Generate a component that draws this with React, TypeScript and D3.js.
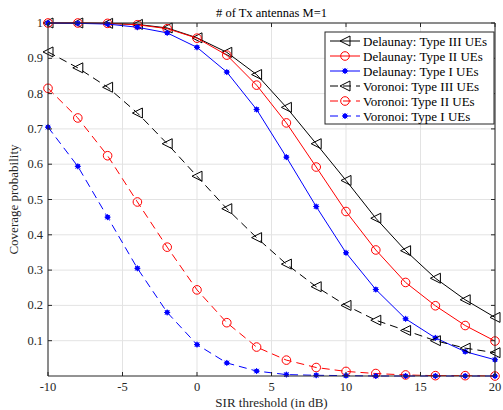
import React from "react";
import * as d3 from "d3";

const xVals = [-10, -8, -6, -4, -2, 0, 2, 4, 6, 8, 10, 12, 14, 16, 18, 20];
const delaunayIII = [1, 1, 0.999, 0.996, 0.986, 0.958, 0.917, 0.854, 0.761, 0.658, 0.554, 0.447, 0.355, 0.277, 0.216, 0.166];
const delaunayII = [1, 1, 0.999, 0.995, 0.984, 0.957, 0.909, 0.824, 0.717, 0.592, 0.466, 0.357, 0.265, 0.199, 0.143, 0.099];
const delaunayI = [1, 0.999, 0.997, 0.988, 0.972, 0.931, 0.861, 0.755, 0.62, 0.48, 0.349, 0.245, 0.162, 0.108, 0.069, 0.046];
const voronoiIII = [0.918, 0.873, 0.818, 0.745, 0.658, 0.566, 0.474, 0.392, 0.317, 0.253, 0.2, 0.158, 0.129, 0.1, 0.079, 0.066];
const voronoiII = [0.815, 0.731, 0.624, 0.493, 0.365, 0.244, 0.151, 0.082, 0.045, 0.024, 0.013, 0.007, 0.003, 0.001, 0.001, 0];
const voronoiI = [0.705, 0.594, 0.45, 0.305, 0.18, 0.089, 0.037, 0.014, 0.004, 0.002, 0.001, 0, 0, 0, 0, 0];

const xTicks = [-10, -5, 0, 5, 10, 15, 20];
const yTicks = [0.1, 0.2, 0.3, 0.4, 0.5, 0.6, 0.7, 0.8, 0.9, 1];
const yTickLabels = ["0.1", "0.2", "0.3", "0.4", "0.5", "0.6", "0.7", "0.8", "0.9", "1"];

type Series = { name: string; values: number[]; color: string; marker: "tri" | "circ" | "star"; dashed: boolean };
const series: Series[] = [
  { name: "Delaunay: Type III UEs", values: delaunayIII, color: "#000000", marker: "tri", dashed: false },
  { name: "Delaunay: Type II UEs", values: delaunayII, color: "#ff0000", marker: "circ", dashed: false },
  { name: "Delaunay: Type I UEs", values: delaunayI, color: "#0000ff", marker: "star", dashed: false },
  { name: "Voronoi: Type III UEs", values: voronoiIII, color: "#000000", marker: "tri", dashed: true },
  { name: "Voronoi: Type II UEs", values: voronoiII, color: "#ff0000", marker: "circ", dashed: true },
  { name: "Voronoi: Type I UEs", values: voronoiI, color: "#0000ff", marker: "star", dashed: true },
];

const L = 48, R = 495, T = 23, B = 376;
const FONT = "'Liberation Serif', 'DejaVu Serif', serif";

function Marker({ kind, x, y, color }: { kind: string; x: number; y: number; color: string }) {
  if (kind === "tri") {
    const s = 5;
    return <path d={`M${x - s},${y} L${x + s},${y - s} L${x + s},${y + s} Z`} fill="none" stroke={color} strokeWidth={1} />;
  }
  if (kind === "circ") {
    return <circle cx={x} cy={y} r={4.3} fill="none" stroke={color} strokeWidth={1} />;
  }
  const s = 3;
  return (
    <g stroke={color} strokeWidth={1}>
      <line x1={x - s} y1={y} x2={x + s} y2={y} />
      <line x1={x} y1={y - s} x2={x} y2={y + s} />
      <line x1={x - s * 0.75} y1={y - s * 0.75} x2={x + s * 0.75} y2={y + s * 0.75} />
      <line x1={x - s * 0.75} y1={y + s * 0.75} x2={x + s * 0.75} y2={y - s * 0.75} />
      <circle cx={x} cy={y} r={2.4} fill={color} stroke="none" />
    </g>
  );
}

export default function App() {
  const x = d3.scaleLinear().domain([-10, 20]).range([L, R]);
  const y = d3.scaleLinear().domain([0, 1]).range([B, T]);
  const line = d3.line<number>().x((_, i) => x(xVals[i])).y((d) => y(d));
  const gridColor = "#e3e3e3";
  const axisColor = "#262626";
  const legX = 325, legY = 32, legW = 169, legH = 92;
  return (
    <svg width={503} height={410} style={{ position: "absolute", left: 0, top: 0, background: "#fff" }} fontFamily={FONT}>
      <rect x={0} y={0} width={503} height={410} fill="#fff" />
      {xTicks.map((t) => (
        <line key={"gx" + t} x1={x(t)} x2={x(t)} y1={T} y2={B} stroke={gridColor} strokeWidth={1} />
      ))}
      {yTicks.map((t) => (
        <line key={"gy" + t} x1={L} x2={R} y1={y(t)} y2={y(t)} stroke={gridColor} strokeWidth={1} />
      ))}
      {series.map((s, si) => (
        <g key={si}>
          <path d={line(s.values) || ""} fill="none" stroke={s.color} strokeWidth={1} strokeDasharray={s.dashed ? "8,5" : undefined} />
          {s.values.map((v, i) => (
            <Marker key={i} kind={s.marker} x={x(xVals[i])} y={y(v)} color={s.color} />
          ))}
        </g>
      ))}
      <line x1={L} x2={R} y1={T} y2={T} stroke={axisColor} strokeWidth={1} />
      <line x1={R} x2={R} y1={T} y2={B} stroke={axisColor} strokeWidth={1} />
      <line x1={L} x2={R} y1={B} y2={B} stroke={axisColor} strokeWidth={1} />
      <line x1={L} x2={L} y1={T} y2={B} stroke={axisColor} strokeWidth={1} />
      {xTicks.map((t) => (
        <g key={"tx" + t}>
          <line x1={x(t)} x2={x(t)} y1={B} y2={B - 4} stroke={axisColor} />
          <line x1={x(t)} x2={x(t)} y1={T} y2={T + 4} stroke={axisColor} />
          <text x={x(t)} y={B + 15} textAnchor="middle" fontSize={12.5} fill={axisColor}>{t}</text>
        </g>
      ))}
      {yTicks.map((t, i) => (
        <g key={"ty" + t}>
          <line x1={L} x2={L + 4} y1={y(t)} y2={y(t)} stroke={axisColor} />
          <line x1={R} x2={R - 4} y1={y(t)} y2={y(t)} stroke={axisColor} />
          <text x={L - 5} y={y(t) + 4} textAnchor="end" fontSize={12.5} fill={axisColor}>{yTickLabels[i]}</text>
        </g>
      ))}
      <text x={(L + R) / 2} y={17} textAnchor="middle" fontSize={12.5} fill="#000">{"# of Tx antennas M=1"}</text>
      <text x={(L + R) / 2} y={407} textAnchor="middle" fontSize={13} fill={axisColor}>SIR threshold (in dB)</text>
      <text transform={`translate(18,${(T + B) / 2}) rotate(-90)`} textAnchor="middle" fontSize={13} fill={axisColor}>Coverage probability</text>
      <rect x={legX} y={legY} width={legW} height={legH} fill="#fff" stroke={axisColor} strokeWidth={1} />
      {series.map((s, i) => {
        const ly = legY + 9 + i * 15;
        return (
          <g key={"l" + i}>
            <line x1={legX + 5} x2={legX + 35} y1={ly} y2={ly} stroke={s.color} strokeWidth={1} strokeDasharray={s.dashed ? "8,5" : undefined} />
            <Marker kind={s.marker} x={legX + 20} y={ly} color={s.color} />
            <text x={legX + 38} y={ly + 4.5} fontSize={13} fill="#000">{s.name}</text>
          </g>
        );
      })}
    </svg>
  );
}
